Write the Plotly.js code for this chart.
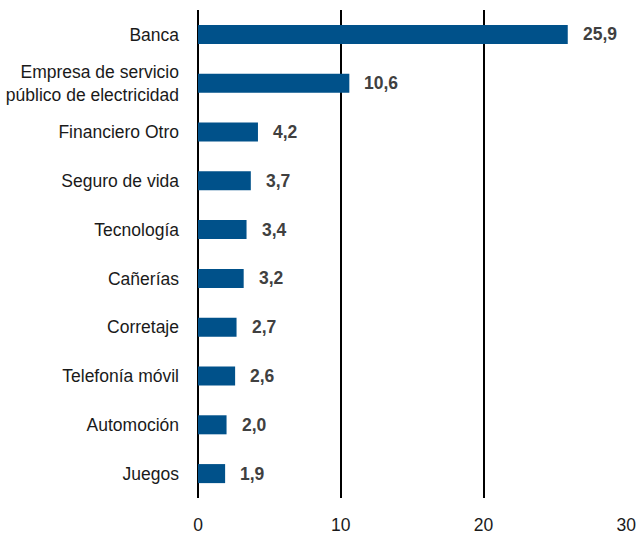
<!DOCTYPE html>
<html>
<head>
<meta charset="utf-8">
<script src="https://cdn.plot.ly/plotly-3.0.1.min.js"></script>
<style>html,body{margin:0;padding:0;background:#fff;}#chart{width:638px;height:533px;}</style>
</head>
<body>
<div id="chart"></div>
<script>
const categories = ["Banca", "Empresa de servicio<br>público de electricidad", "Financiero Otro", "Seguro de vida", "Tecnología", "Cañerías", "Corretaje", "Telefonía móvil", "Automoción", "Juegos"];
const values = [25.9, 10.6, 4.2, 3.7, 3.4, 3.2, 2.7, 2.6, 2.0, 1.9];
const valueLabels = values.map(v => v.toFixed(1).replace('.', ','));
const xTicks = [0, 10, 20, 30];

const FONT = '"Liberation Sans", Arial, sans-serif';
const FS = 17.5;

const trace = {
  type: 'bar',
  orientation: 'h',
  x: values,
  y: categories,
  width: 0.39,
  marker: {color: '#00518a'},
  hoverinfo: 'none'
};

const annotations = values.map((v, i) => ({
  x: v, y: categories[i], xref: 'x', yref: 'y',
  text: '<b>' + valueLabels[i] + '</b>',
  showarrow: false, xanchor: 'left', yanchor: 'middle', xshift: 13,
  font: {family: FONT, size: FS, color: '#404040'}
}));

const layout = {
  width: 638, height: 533,
  margin: {l: 198, r: 11, t: 10, b: 35},
  paper_bgcolor: '#fff', plot_bgcolor: '#fff',
  showlegend: false,
  font: {family: FONT, size: FS, color: '#1a1a1a'},
  xaxis: {
    range: [0, 30.05], tickvals: xTicks, ticktext: xTicks.map(String),
    showgrid: true, gridcolor: '#000', gridwidth: 2,
    zeroline: true, zerolinecolor: '#000', zerolinewidth: 2,
    showline: false, ticks: '', ticklabelstandoff: 14, ticklabeloverflow: 'allow',
    tickfont: {family: FONT, size: FS, color: '#1a1a1a'}, fixedrange: true
  },
  yaxis: {
    autorange: 'reversed', type: 'category',
    showgrid: false, zeroline: false, showline: false, ticks: '',
    ticklabelstandoff: 18, automargin: false,
    tickfont: {family: FONT, size: FS, color: '#1a1a1a'}, fixedrange: true
  },
  annotations: annotations
};

Plotly.newPlot('chart', [trace], layout, {displayModeBar: false, staticPlot: true});
</script>
</body>
</html>
